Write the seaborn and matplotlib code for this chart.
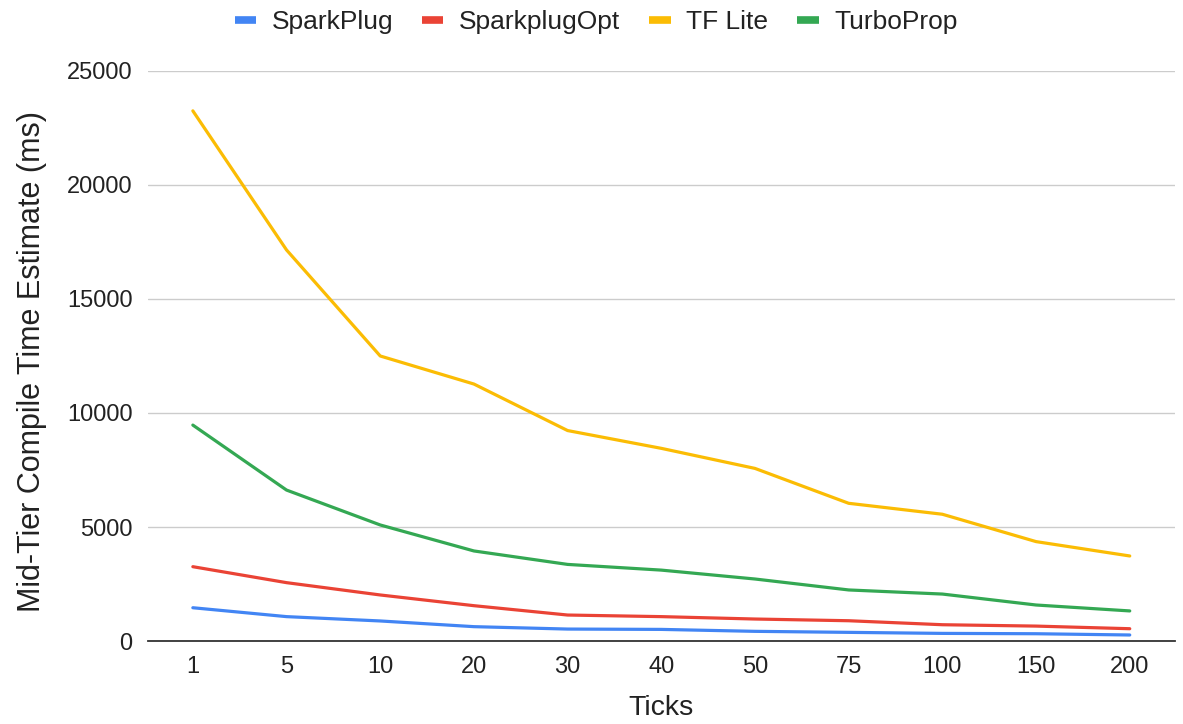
import matplotlib
matplotlib.use("Agg")
import matplotlib.pyplot as plt
import seaborn as sns
import pandas as pd
from matplotlib.lines import Line2D

ticks = ["1", "5", "10", "20", "30", "40", "50", "75", "100", "150", "200"]
sparkplug = [1460, 1070, 880, 630, 525, 510, 425, 380, 335, 320, 265]
sparkplug_opt = [3260, 2560, 2020, 1550, 1140, 1070, 965, 890, 715, 655, 540]
tf_lite = [23250, 17150, 12500, 11270, 9230, 8450, 7570, 6040, 5560, 4360, 3730]
turboprop = [9470, 6620, 5090, 3950, 3360, 3110, 2720, 2240, 2060, 1580, 1320]

series = ["SparkPlug", "SparkplugOpt", "TF Lite", "TurboProp"]
colors = ["#4285F4", "#EA4335", "#FBBC04", "#34A853"]

rows = []
for name, vals in zip(series, [sparkplug, sparkplug_opt, tf_lite, turboprop]):
    for t, v in zip(ticks, vals):
        rows.append({"Ticks": t, "value": v, "series": name})
df = pd.DataFrame(rows)

sns.set_theme(style="white")
plt.rcParams["font.family"] = ["Liberation Sans", "DejaVu Sans"]

fig = plt.figure(figsize=(11.83, 7.24), dpi=100)
ax = fig.add_axes([0.125, 0.1146, 0.868, 0.7874])

sns.lineplot(data=df, x="Ticks", y="value", hue="series", hue_order=series,
             palette=colors, linewidth=2.3, sort=False, ax=ax, legend=False)

ax.set_xlim(-0.48, 10.48)
ax.set_ylim(0, 25000)
ax.set_yticks([0, 5000, 10000, 15000, 20000, 25000])
ax.yaxis.grid(True, color="#cccccc", linewidth=1)
ax.xaxis.grid(False)
for s in ["left", "right", "top"]:
    ax.spines[s].set_visible(False)
ax.spines["bottom"].set_color("#333333")
ax.spines["bottom"].set_linewidth(1.3)
ax.tick_params(axis="both", length=0, labelsize=17, colors="#222222")
ax.tick_params(axis="y", pad=11)
ax.tick_params(axis="x", pad=11)
ax.set_xlabel("Ticks", fontsize=20.5, color="#222222", labelpad=12)
ax.set_ylabel("Mid-Tier Compile Time Estimate (ms)", fontsize=22, color="#222222", labelpad=17)
ax.yaxis.set_label_coords(-0.098, 0.49)

handles = [Line2D([0], [0], color=c, linewidth=5.5, solid_capstyle="butt") for c in colors]
fig.legend(handles, series, loc="center", bbox_to_anchor=(0.504, 0.969), ncol=4,
           frameon=False, fontsize=19, handlelength=0.8, handletextpad=0.6,
           columnspacing=1.1, labelcolor="#222222")

fig.savefig("out.png", dpi=100)
